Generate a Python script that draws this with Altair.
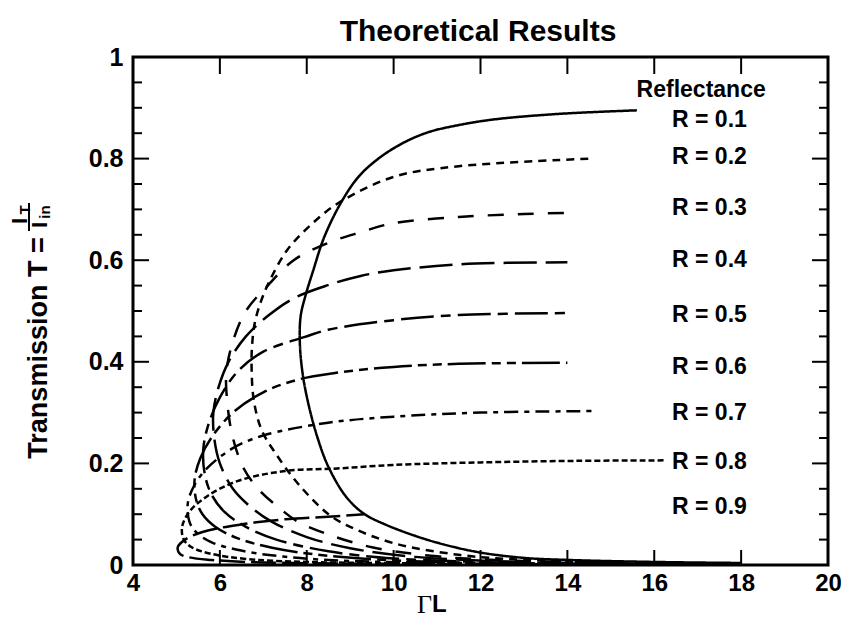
import altair as alt
import pandas as pd

# ---------------- data ----------------
R_LIST = ["0.1", "0.2", "0.3", "0.4", "0.5", "0.6", "0.7", "0.8", "0.9"]

# each curve: lower branch (from large x back to the nose) then upper branch
x01 = [18.0, 16.0, 14.0, 13.0, 11.9, 10.8, 9.8, 9.3, 8.9, 8.5, 8.25, 8.03, 7.9, 7.84, 7.86, 7.97, 8.15, 8.4, 8.8, 9.2, 9.65, 10.2, 10.8, 11.5, 12.3, 13.8, 15.6]
y01 = [0.004, 0.006, 0.010, 0.014, 0.026, 0.049, 0.08, 0.102, 0.135, 0.193, 0.25, 0.32, 0.38, 0.44, 0.49, 0.53, 0.58, 0.645, 0.715, 0.765, 0.80, 0.83, 0.852, 0.866, 0.877, 0.888, 0.895]

x02 = [18.0, 15.0, 13.0, 11.5, 10.0, 9.0, 8.5, 7.8, 7.28, 6.96, 6.78, 6.73, 6.74, 6.8, 6.95, 7.15, 7.55, 8.1, 8.72, 10.0, 11.5, 14.6]
y02 = [0.002, 0.005, 0.010, 0.02, 0.043, 0.075, 0.10, 0.16, 0.22, 0.266, 0.325, 0.39, 0.43, 0.475, 0.52, 0.56, 0.62, 0.67, 0.712, 0.764, 0.785, 0.80]

x03 = [18.0, 13.0, 11.0, 9.5, 8.5, 7.8, 7.4, 6.9, 6.55, 6.3, 6.17, 6.15, 6.3, 6.6, 7.1, 7.7, 8.49, 9.24, 10.0, 11.5, 13.0, 14.07]
y03 = [0.002, 0.008, 0.017, 0.035, 0.06, 0.085, 0.11, 0.148, 0.19, 0.25, 0.32, 0.38, 0.44, 0.50, 0.55, 0.60, 0.634, 0.655, 0.673, 0.685, 0.691, 0.693]

x04 = [18.0, 13.0, 10.5, 9.0, 8.0, 7.2, 6.7, 6.3, 6.0, 5.87, 5.85, 5.97, 6.2, 6.6, 7.1, 7.7, 8.49, 9.24, 10.0, 11.52, 14.0]
y04 = [0.001, 0.006, 0.016, 0.033, 0.055, 0.085, 0.115, 0.15, 0.20, 0.25, 0.30, 0.35, 0.40, 0.45, 0.49, 0.525, 0.551, 0.569, 0.58, 0.592, 0.596]

x05 = [18.0, 13.0, 10.0, 8.5, 7.3, 6.6, 6.1, 5.8, 5.65, 5.62, 5.75, 6.0, 6.4, 7.0, 7.96, 8.49, 10.0, 11.5, 14.0]
y05 = [0.001, 0.004, 0.013, 0.027, 0.05, 0.075, 0.105, 0.14, 0.18, 0.23, 0.28, 0.33, 0.38, 0.42, 0.449, 0.463, 0.482, 0.492, 0.496]

x06 = [18.0, 11.0, 8.5, 7.2, 6.4, 5.9, 5.6, 5.45, 5.42, 5.55, 5.8, 6.3, 7.0, 7.8, 8.65, 10.0, 11.5, 14.0]
y06 = [0.001, 0.006, 0.018, 0.034, 0.053, 0.075, 0.10, 0.13, 0.17, 0.21, 0.25, 0.30, 0.34, 0.365, 0.378, 0.39, 0.396, 0.398]

x07 = [18.0, 9.0, 7.3, 6.4, 5.8, 5.45, 5.3, 5.26, 5.4, 5.7, 6.3, 7.0, 8.49, 10.0, 12.0, 14.6]
y07 = [0.001, 0.008, 0.018, 0.03, 0.045, 0.065, 0.085, 0.12, 0.155, 0.19, 0.23, 0.255, 0.28, 0.292, 0.300, 0.303]

x08 = [18.0, 8.0, 6.6, 5.8, 5.35, 5.17, 5.13, 5.3, 5.7, 6.4, 7.5, 8.7, 10.0, 12.0, 14.2, 16.24]
y08 = [0.001, 0.006, 0.012, 0.022, 0.035, 0.05, 0.075, 0.105, 0.135, 0.165, 0.185, 0.19, 0.197, 0.202, 0.205, 0.206]

x09 = [18.0, 7.0, 5.8, 5.3, 5.08, 5.03, 5.2, 5.6, 6.5, 7.5, 8.49, 9.33]
y09 = [0.001, 0.005, 0.01, 0.015, 0.022, 0.035, 0.05, 0.065, 0.08, 0.09, 0.095, 0.10]

CURVES_X = [x01, x02, x03, x04, x05, x06, x07, x08, x09]
CURVES_Y = [y01, y02, y03, y04, y05, y06, y07, y08, y09]

LABEL_TEXT = ["Reflectance"] + ["R = " + r for r in R_LIST]
LABEL_X = [17.08] + [17.27] * 9
LABEL_Y = [0.935, 0.876, 0.803, 0.703, 0.600, 0.492, 0.390, 0.299, 0.203, 0.114]

X_MAJOR = [6, 8, 10, 12, 14, 16, 18]
X_LABELS = [4, 6, 8, 10, 12, 14, 16, 18, 20]
Y_MAJOR = [0.2, 0.4, 0.6, 0.8]
Y_MINOR = [0.05, 0.1, 0.15, 0.25, 0.3, 0.35, 0.45, 0.5, 0.55, 0.65, 0.7, 0.75, 0.85, 0.9, 0.95]
Y_LABELS = [0, 0.2, 0.4, 0.6, 0.8, 1]

# ---------------- styling ----------------
W, H = 695, 508
FONT = "Liberation Sans"
DASHES = [[1, 0], [8, 6], [16, 14], [33, 9], [33, 7, 10, 7], [38, 6, 9, 6, 9, 6], [14, 6, 5, 6], [6, 3], [25, 6]]

xs = alt.Scale(domain=[4, 20], nice=False, zero=False)
ys = alt.Scale(domain=[0, 1], nice=False, zero=False)

x_axis = alt.Axis(values=X_LABELS, title=None, grid=False, ticks=False, domain=False,
                  labelFontSize=24, labelFontWeight="bold", labelFont=FONT, labelPadding=6,
                  labelColor="black", labelFlush=False)
y_axis = alt.Axis(values=Y_LABELS, title=None, grid=False, ticks=False, domain=False,
                  labelFontSize=25, labelFontWeight="bold", labelFont=FONT, labelPadding=10,
                  labelColor="black", labelFlush=False,
                  labelExpr="datum.value == 0 ? '0' : datum.value == 1 ? '1' : format(datum.value, '.1f')")

layers = []
base_axes = alt.Chart(pd.DataFrame({"x": [4, 20], "y": [0, 1]})).mark_point(opacity=0).encode(
    x=alt.X("x:Q", scale=xs, axis=x_axis), y=alt.Y("y:Q", scale=ys, axis=y_axis))
layers.append(base_axes)

for i, r in enumerate(R_LIST):
    df = pd.DataFrame({"x": CURVES_X[i], "y": CURVES_Y[i]})
    df["o"] = range(len(df))
    layers.append(
        alt.Chart(df).mark_line(color="black", strokeWidth=2.5, strokeDash=DASHES[i],
                                interpolate="catmull-rom", clip=True).encode(
            x=alt.X("x:Q", scale=xs), y=alt.Y("y:Q", scale=ys), order="o:Q")
    )

# inward ticks
xt = pd.DataFrame({"v": X_MAJOR})
layers.append(alt.Chart(xt).mark_rule(color="black", strokeWidth=2).encode(
    x=alt.X("v:Q", scale=xs), y=alt.value(H), y2=alt.value(H - 15)))
layers.append(alt.Chart(xt).mark_rule(color="black", strokeWidth=2).encode(
    x=alt.X("v:Q", scale=xs), y=alt.value(0), y2=alt.value(17)))
ytM = pd.DataFrame({"v": Y_MAJOR})
ytm = pd.DataFrame({"v": Y_MINOR})
for df, ln in [(ytM, 16), (ytm, 9)]:
    layers.append(alt.Chart(df).mark_rule(color="black", strokeWidth=2).encode(
        y=alt.Y("v:Q", scale=ys), x=alt.value(0), x2=alt.value(ln)))
    layers.append(alt.Chart(df).mark_rule(color="black", strokeWidth=2).encode(
        y=alt.Y("v:Q", scale=ys), x=alt.value(W), x2=alt.value(W - ln)))

# curve labels
lab = pd.DataFrame({"t": LABEL_TEXT, "x": LABEL_X, "y": LABEL_Y})
layers.append(alt.Chart(lab).mark_text(font=FONT, fontWeight="bold", fontSize=23, color="black",
                                       align="center", baseline="middle").encode(
    x=alt.X("x:Q", scale=xs), y=alt.Y("y:Q", scale=ys), text="t:N"))

# title and axis titles (placed in pixel space outside the plot)
def txt(t, px, py, size, angle=0, font=FONT, weight="bold", align="center"):
    return alt.Chart(pd.DataFrame({"t": [t]})).mark_text(
        font=font, fontWeight=weight, fontSize=size, color="black", angle=angle,
        align=align, baseline="middle").encode(x=alt.value(px), y=alt.value(py), text="t:N")

layers.append(txt("Theoretical Results", 345, -25, 30))
layers.append(txt("Γ", 299, 548, 26, font="Liberation Serif", weight="normal", align="right"))
layers.append(txt("L", 299, 548, 24, align="left"))
layers.append(txt("Transmission T =", -94, 291, 27, angle=270))
layers.append(txt("I", -113, 164, 22, angle=270))
layers.append(txt("T", -108, 153, 15, angle=270))
layers.append(txt("I", -93, 168, 22, angle=270))
layers.append(txt("in", -88, 155, 15, angle=270))
layers.append(alt.Chart(pd.DataFrame({"a": [0]})).mark_rule(color="black", strokeWidth=2).encode(
    x=alt.value(-104), y=alt.value(146), y2=alt.value(174)))

chart = alt.layer(*layers).properties(
    width=W, height=H,
    autosize=alt.AutoSizeParams(type="none"),
    padding={"left": 125, "top": 49, "right": 13, "bottom": 58},
).configure_view(stroke="black", strokeWidth=3)

chart.save("out.html", embed_options={"renderer": "svg", "actions": False})
